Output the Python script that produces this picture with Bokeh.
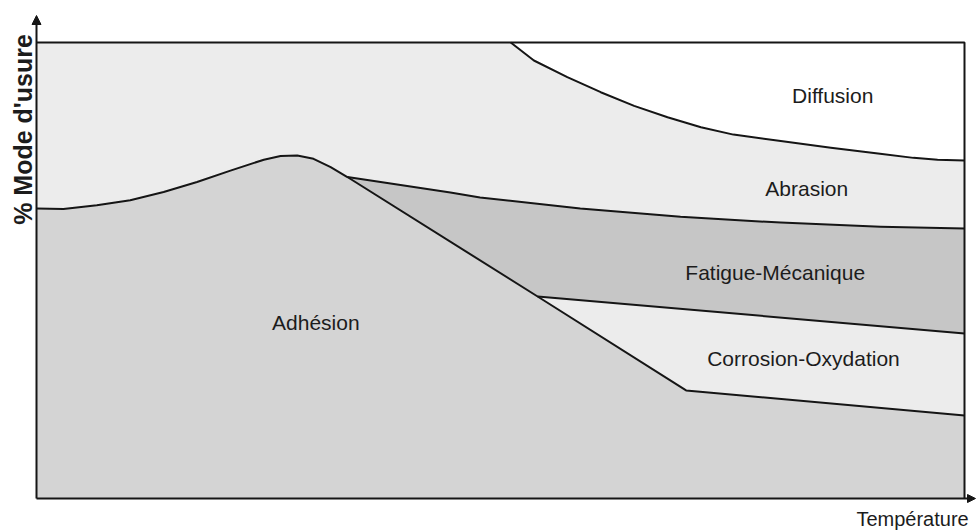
import numpy as np
from bokeh.plotting import figure
from bokeh.models import Range1d, Arrow, NormalHead
from bokeh.core.properties import value
from bokeh.embed import file_html
from bokeh.resources import INLINE

# Boundary curves (x: temperature 0-100, y: % mode d'usure 0-100)
adh_x = [0.0, 2.9, 6.5, 10.1, 13.7, 17.3, 20.9, 24.5, 26.3, 28.1, 29.85, 31.7, 33.5, 54.0, 70.0, 100.0]
adh_y = [63.6, 63.5, 64.3, 65.4, 67.2, 69.4, 71.9, 74.3, 75.1, 75.2, 74.5, 72.65, 70.5, 44.3, 23.7, 18.2]

fat_x = [33.5, 44.6, 47.8, 58.6, 69.4, 80.2, 90.95, 100.0]
fat_y = [70.5, 67.1, 66.0, 63.6, 61.8, 60.5, 59.6, 59.2]

cor_x = [54.0, 100.0]
cor_y = [44.3, 36.2]

dif_x = [51.1, 53.6, 57.2, 60.8, 64.4, 68.0, 71.6, 75.1, 80.2, 85.6, 90.9, 94.5, 97.1, 100.0]
dif_y = [100.0, 96.05, 92.4, 89.1, 86.1, 83.6, 81.4, 79.8, 78.4, 76.9, 75.6, 74.7, 74.3, 74.1]

labels = ["Diffusion", "Abrasion", "Fatigue-Mécanique", "Corrosion-Oxydation", "Adhésion"]
label_x = [85.8, 83.0, 79.6, 82.65, 30.1]
label_y = [88.4, 68.0, 49.6, 30.7, 38.6]

x_title = "Température"
y_title = "% Mode d'usure"

LIGHT = "#ececec"
ADH = "#d4d4d4"
FAT = "#c6c6c6"
LINE = "#151515"
TXT = "#1c1c1c"
FONT = value("Liberation Sans")

W, H = 978, 532
# plot rectangle in pixels: left 36, right 964, top 42, bottom 498
sx = 928 / 100.0
sy = 456 / 100.0
xr = Range1d(-36 / sx, 100 + (W - 964) / sx)
yr = Range1d(-(H - 498) / sy, 100 + 42 / sy)

p = figure(width=W, height=H, output_backend="svg", toolbar_location=None,
           x_axis_location=None, y_axis_location=None,
           x_range=xr, y_range=yr,
           min_border=0, outline_line_color=None,
           background_fill_color="white", border_fill_color="white")
p.grid.visible = False

ax = np.array(adh_x); ay = np.array(adh_y)
p.quad(left=0, right=100, bottom=0, top=100, fill_color=LIGHT, line_color=None)
p.patch(x=dif_x + [100.0], y=dif_y + [100.0], fill_color="white", line_color=None)
p.patch(x=list(ax) + [100.0, 0.0], y=list(ay) + [0.0, 0.0], fill_color=ADH, line_color=None)
m1 = (ax >= fat_x[0]) & (ax <= cor_x[0])
p.patch(x=fat_x + cor_x[::-1] + list(ax[m1][::-1]),
        y=fat_y + cor_y[::-1] + list(ay[m1][::-1]), fill_color=FAT, line_color=None)
m2 = ax >= cor_x[0]
p.patch(x=cor_x + list(ax[m2][::-1]), y=cor_y + list(ay[m2][::-1]),
        fill_color=LIGHT, line_color=None)

for xs, ys in [(adh_x, adh_y), (fat_x, fat_y), (cor_x, cor_y), (dif_x, dif_y)]:
    p.line(xs, ys, line_color=LINE, line_width=2, line_join="round")

p.line([0, 100, 100], [100, 100, 0], line_color=LINE, line_width=2)
p.add_layout(Arrow(x_start=0, y_start=0, x_end=0, y_end=(498 - 15) / sy, line_color=LINE,
                   line_width=2, end=NormalHead(size=9, fill_color=LINE, line_color=LINE)))
p.add_layout(Arrow(x_start=0, y_start=0, x_end=(975 - 36) / sx, y_end=0, line_color=LINE,
                   line_width=2, end=NormalHead(size=8, fill_color=LINE, line_color=LINE)))

p.text(x=label_x, y=label_y, text=labels, text_font=FONT, text_font_size="21px",
       text_align="center", text_baseline="middle", text_color=TXT)
p.text(x=[94.4], y=[-4.4], text=[x_title], text_font=FONT, text_font_size="20px",
       text_align="center", text_baseline="middle", text_color=TXT)
p.text(x=[(22 - 36) / sx], y=[(498 - 129) / sy], text=[y_title], text_font=FONT,
       text_font_size="25px", text_font_style="bold", angle=np.pi / 2, text_align="center",
       text_baseline="middle", text_color=TXT)

open("out.html", "w").write(file_html(p, INLINE))
